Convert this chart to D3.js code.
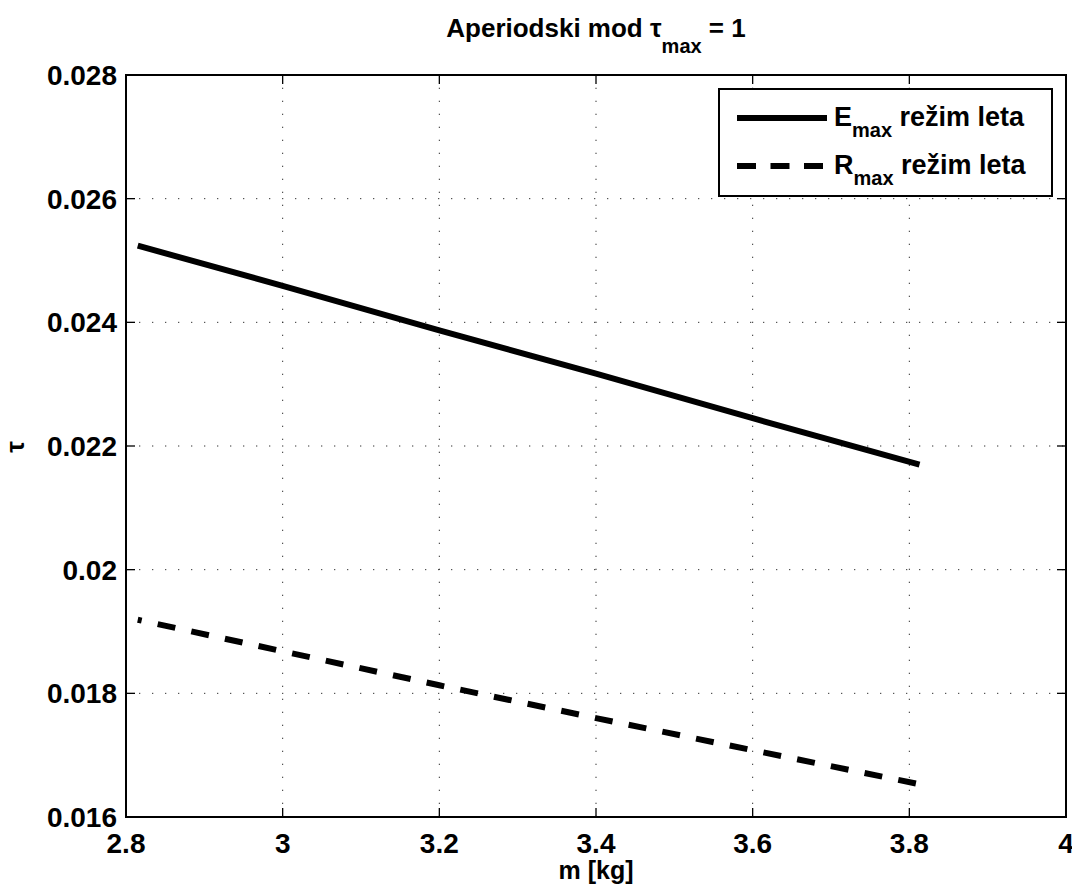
<!DOCTYPE html>
<html>
<head>
<meta charset="utf-8">
<script src="https://cdn.jsdelivr.net/npm/d3@7"></script>
<style>
  body { margin: 0; background: #fff; }
  svg { display: block; }
  text { font-family: "Liberation Sans", Arial, sans-serif; font-weight: bold; fill: #000; }
</style>
</head>
<body>
<svg id="chart" width="1072" height="892"></svg>
<script>
// ---- data ----
const massValues = [2.815, 3.0, 3.2, 3.4, 3.6, 3.813];
const tauEmax = [0.02524, 0.02459, 0.02387, 0.02317, 0.02245, 0.02170];
const tauRmax = [0.01919, 0.01868, 0.01813, 0.01760, 0.01708, 0.01653];
const xTicks = [2.8, 3, 3.2, 3.4, 3.6, 3.8, 4];
const yTicks = [0.016, 0.018, 0.02, 0.022, 0.024, 0.026, 0.028];
const xTickLabels = ["2.8", "3", "3.2", "3.4", "3.6", "3.8", "4"];
const yTickLabels = ["0.016", "0.018", "0.02", "0.022", "0.024", "0.026", "0.028"];
const seriesNames = ["E", "R"];

// ---- layout ----
const L = 126, R = 1066, T = 75, B = 817;
const svg = d3.select("#chart");
const x = d3.scaleLinear().domain([2.8, 4]).range([L, R]);
const y = d3.scaleLinear().domain([0.016, 0.028]).range([B, T]);

// grid
const grid = svg.append("g").attr("stroke", "#333").attr("stroke-width", 1).attr("stroke-dasharray", "1.3,11.7");
grid.selectAll(".gx").data(xTicks.slice(1, -1)).join("line")
  .attr("x1", d => x(d)).attr("x2", d => x(d)).attr("y1", B).attr("y2", T);
grid.selectAll(".gy").data(yTicks.slice(1, -1)).join("line")
  .attr("y1", d => y(d)).attr("y2", d => y(d)).attr("x1", L).attr("x2", R);

// ticks (inward, all four sides)
const tk = svg.append("g").attr("stroke", "#000").attr("stroke-width", 1.3);
const tl = 9;
xTicks.forEach(v => {
  tk.append("line").attr("x1", x(v)).attr("x2", x(v)).attr("y1", B).attr("y2", B - tl);
  tk.append("line").attr("x1", x(v)).attr("x2", x(v)).attr("y1", T).attr("y2", T + tl);
});
yTicks.forEach(v => {
  tk.append("line").attr("y1", y(v)).attr("y2", y(v)).attr("x1", L).attr("x2", L + tl);
  tk.append("line").attr("y1", y(v)).attr("y2", y(v)).attr("x1", R).attr("x2", R - tl);
});

// series
const line = d3.line().x((d, i) => x(massValues[i])).y(d => y(d));
svg.append("path").datum(tauEmax).attr("d", line)
  .attr("fill", "none").attr("stroke", "#000").attr("stroke-width", 6);
svg.append("path").datum(tauRmax).attr("d", line)
  .attr("fill", "none").attr("stroke", "#000").attr("stroke-width", 6)
  .attr("stroke-dasharray", "18,16.4").attr("stroke-dashoffset", 14);

// box
svg.append("rect").attr("x", L).attr("y", T).attr("width", R - L).attr("height", B - T)
  .attr("fill", "none").attr("stroke", "#000").attr("stroke-width", 2);

// tick labels
svg.append("g").selectAll("text").data(xTicks).join("text")
  .attr("x", d => x(d)).attr("y", 853).attr("text-anchor", "middle")
  .attr("font-size", 28).text((d, i) => xTickLabels[i]);
svg.append("g").selectAll("text").data(yTicks).join("text")
  .attr("x", L - 9).attr("y", d => y(d) + 10).attr("text-anchor", "end")
  .attr("font-size", 28).text((d, i) => yTickLabels[i]);

// axis labels
svg.append("text").attr("x", 596).attr("y", 879).attr("text-anchor", "middle")
  .attr("font-size", 25).text("m [kg]");
svg.append("text").attr("transform", "translate(24,447) rotate(-90)")
  .attr("text-anchor", "middle").attr("font-size", 26).text("τ");

// title
const title = svg.append("text").attr("x", 596).attr("y", 37).attr("text-anchor", "middle").attr("font-size", 26);
title.append("tspan").text("Aperiodski mod τ");
title.append("tspan").attr("dy", 16).attr("font-size", 20).text("max");
title.append("tspan").attr("dy", -16).text(" = 1");

// legend
const lg = svg.append("g");
lg.append("rect").attr("x", 719).attr("y", 89).attr("width", 333).attr("height", 107)
  .attr("fill", "#fff").attr("stroke", "#000").attr("stroke-width", 2);
const rowsY = [118, 166];
const dashes = [null, "19,14.5"];
seriesNames.forEach((n, i) => {
  lg.append("line").attr("x1", 737).attr("x2", 827).attr("y1", rowsY[i]).attr("y2", rowsY[i])
    .attr("stroke", "#000").attr("stroke-width", 6).attr("stroke-dasharray", dashes[i]);
  const t = lg.append("text").attr("x", 834).attr("y", rowsY[i] + 8).attr("font-size", 27);
  t.append("tspan").text(n);
  t.append("tspan").attr("dy", 11).attr("font-size", 20).text("max");
  t.append("tspan").attr("dy", -11).text(" režim leta");
});
</script>
</body>
</html>
